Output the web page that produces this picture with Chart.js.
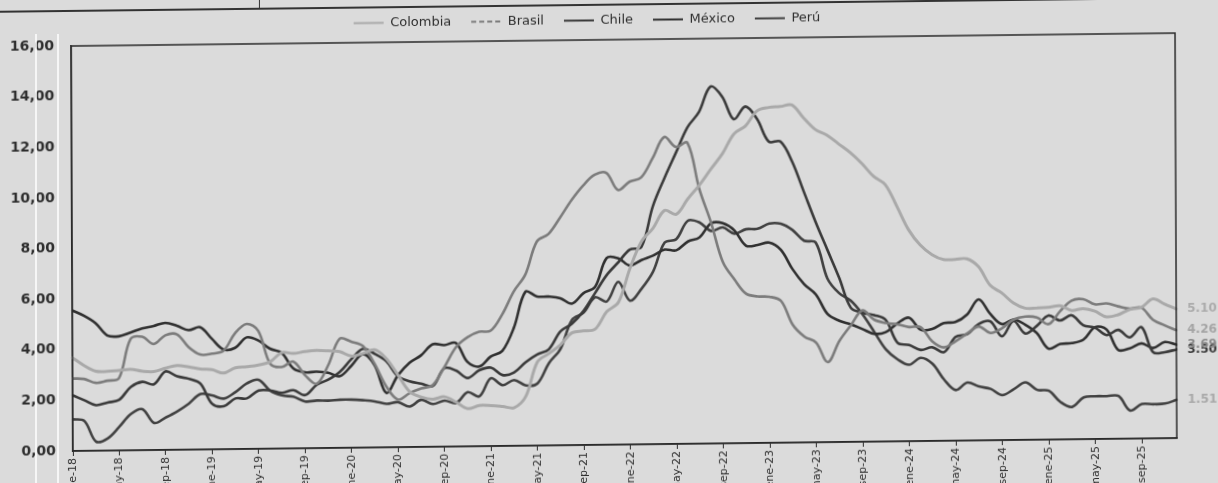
<!DOCTYPE html>
<html>
<head>
<meta charset="utf-8">
<script src="https://cdn.jsdelivr.net/npm/chart.js@4.4.1/dist/chart.umd.min.js"></script>
<style>
  html, body { margin: 0; padding: 0; background: #dbdbdb; overflow: hidden; width: 1218px; height: 483px; }
  #wrap { position: absolute; left: 0; top: 0; width: 1218px; height: 510px;
          transform-origin: 72px 250px; transform: rotate(-0.25deg) skewY(-0.42deg); }
  canvas { display: block; }
  .topline { position: absolute; left: 0; top: 10px; width: 1218px; height: 1.5px; background: #333; }
  .topTick { position: absolute; left: 260px; top: 0; width: 1px; height: 11px; background: #333; }
  .stripe { position: absolute; top: 34px; width: 1.5px; height: 449px; background: rgba(255,255,255,0.75); }
</style>
</head>
<body>
<div id="wrap">
  <div class="topline"></div>
  <div class="topTick"></div>
  <canvas id="c" width="1218" height="510"></canvas>
</div>
<div class="stripe" style="left:35px"></div>
<div class="stripe" style="left:57px"></div>
<script>
// ---------------- DATA ----------------
const monthNames = ['ene','feb','mar','abr','may','jun','jul','ago','sep','oct','nov','dic'];
const yearSuffixes = ['18','19','20','21','22','23','24','25'];
const categories = yearSuffixes.flatMap(y => monthNames.map(m => m + '-' + y));

const xTickLabels = ['ene-18','may-18','sep-18','ene-19','may-19','sep-19','ene-20','may-20','sep-20',
  'ene-21','may-21','sep-21','ene-22','may-22','sep-22','ene-23','may-23','sep-23',
  'ene-24','may-24','sep-24','ene-25','may-25','sep-25'];
const yTickLabels = ['0,00','2,00','4,00','6,00','8,00','10,00','12,00','14,00','16,00'];

const seriesNames = ['Colombia','Brasil','Chile','México','Perú'];

const colombia = [
  3.68,3.37,3.14,3.13,3.16,3.20,3.12,3.10,3.23,3.33,3.27,3.18,
  3.15,3.01,3.21,3.25,3.31,3.43,3.79,3.75,3.82,3.86,3.84,3.80,
  3.62,3.72,3.86,3.51,2.85,2.19,1.97,1.88,1.97,1.75,1.49,1.61,
  1.60,1.56,1.51,1.95,3.30,3.63,3.97,4.44,4.51,4.58,5.26,5.62,
  6.94,8.01,8.53,9.23,9.07,9.67,10.21,10.84,11.44,12.22,12.53,13.12,
  13.25,13.28,13.34,12.82,12.36,12.13,11.78,11.43,10.99,10.48,10.15,9.28,
  8.35,7.74,7.36,7.16,7.16,7.18,6.86,6.12,5.81,5.41,5.20,5.20,
  5.22,5.28,5.09,5.16,5.05,4.82,4.90,5.10,5.18,5.51,5.30,5.10];

const brasil = [
  2.86,2.84,2.68,2.76,2.86,4.39,4.48,4.19,4.53,4.56,4.05,3.75,
  3.78,3.89,4.58,4.94,4.66,3.37,3.22,3.43,2.89,2.54,3.27,4.31,
  4.19,4.01,3.30,2.40,1.88,2.13,2.31,2.44,3.14,3.92,4.31,4.52,
  4.56,5.20,6.10,6.76,8.06,8.35,8.99,9.68,10.25,10.67,10.74,10.06,
  10.38,10.54,11.30,12.13,11.73,11.89,10.07,8.73,7.17,6.47,5.90,5.79,
  5.77,5.60,4.65,4.18,3.94,3.16,3.99,4.61,5.19,4.82,4.68,4.62,
  4.51,4.50,3.93,3.69,3.93,4.23,4.50,4.24,4.42,4.76,4.87,4.83,
  4.56,5.06,5.48,5.53,5.32,5.35,5.23,5.13,5.17,4.68,4.46,4.26];

const chile = [
  2.2,2.0,1.8,1.9,2.0,2.5,2.7,2.6,3.1,2.9,2.8,2.6,
  1.8,1.7,2.0,2.0,2.3,2.3,2.2,2.3,2.1,2.5,2.7,3.0,
  3.5,3.9,3.7,3.4,2.8,2.6,2.5,2.4,3.1,3.0,2.7,3.0,
  3.1,2.8,2.9,3.3,3.6,3.8,4.5,4.8,5.3,6.0,6.7,7.2,
  7.7,7.8,9.4,10.5,11.5,12.5,13.1,14.1,13.7,12.8,13.3,12.8,
  11.9,11.9,11.1,9.9,8.7,7.6,6.5,5.3,5.1,5.0,4.8,3.9,
  3.8,3.6,3.7,3.5,4.1,4.2,4.6,4.7,4.1,4.7,4.2,4.5,
  4.9,4.7,4.9,4.5,4.4,4.1,4.3,4.0,4.4,3.4,3.4,3.5];

const mexico = [
  5.55,5.34,5.04,4.55,4.51,4.65,4.81,4.90,5.02,4.90,4.72,4.83,
  4.37,3.94,4.00,4.41,4.28,3.95,3.78,3.16,3.00,3.02,2.97,2.83,
  3.24,3.70,3.25,2.15,2.84,3.33,3.62,4.05,4.01,4.09,3.33,3.15,
  3.54,3.76,4.67,6.08,5.89,5.88,5.81,5.59,6.00,6.24,7.37,7.36,
  7.07,7.28,7.45,7.68,7.65,7.99,8.15,8.70,8.70,8.41,7.80,7.82,
  7.91,7.62,6.85,6.25,5.84,5.06,4.79,4.64,4.45,4.26,4.32,4.66,
  4.88,4.40,4.42,4.65,4.69,4.98,5.57,4.99,4.58,4.76,4.55,4.21,
  3.59,3.77,3.80,3.93,4.42,4.32,3.51,3.57,3.76,3.57,3.80,3.69];

const peru = [
  1.25,1.18,0.36,0.48,0.93,1.43,1.62,1.07,1.28,1.52,1.82,2.19,
  2.13,2.00,2.25,2.59,2.73,2.29,2.10,2.04,1.85,1.88,1.87,1.90,
  1.90,1.87,1.82,1.72,1.78,1.60,1.86,1.69,1.82,1.72,2.14,1.97,
  2.68,2.40,2.60,2.38,2.45,3.25,3.81,4.95,5.23,5.83,5.66,6.43,
  5.68,6.15,6.82,7.96,8.09,8.81,8.74,8.40,8.53,8.28,8.45,8.46,
  8.66,8.65,8.40,7.97,7.89,6.46,5.88,5.58,5.04,4.34,3.64,3.24,
  3.02,3.29,3.05,2.42,2.00,2.29,2.13,2.03,1.78,2.01,2.27,1.97,
  1.93,1.48,1.28,1.65,1.69,1.69,1.69,1.11,1.36,1.35,1.37,1.51];

const endLabels = ['5.10','4.26','3.50','3.69','1.51'];

// ---------------- STYLE ----------------
const lineColors = ['#a9a9a9','#7c7c7c','#3a3a3a','#303030','#414141'];
const lineWidths = [3,2.6,2.6,2.6,2.6];
const endLabelColors = ['#ababab','#a4a4a4','#3a3a3a','#8a8a8a','#a8a8a8'];
const FONT = '"DejaVu Sans", "Noto Sans", sans-serif';
const INK = '#2e2e2e';

const seriesValues = [colombia, brasil, chile, mexico, peru];

const datasets = seriesNames.map((name, i) => ({
  label: name,
  data: seriesValues[i],
  borderColor: lineColors[i],
  backgroundColor: lineColors[i],
  borderWidth: lineWidths[i],
  pointRadius: 0,
  pointHoverRadius: 0,
  tension: 0.35,
  fill: false,
  borderCapStyle: 'round',
  borderJoinStyle: 'round'
}));

const legendFix = {
  id: 'legendFix',
  beforeLayout(chart) {
    const lg = chart.legend;
    if (lg && !lg.__patched) {
      const f = lg.fit;
      lg.fit = function () { f.call(this); this.height = 46; };
      lg.__patched = true;
    }
  }
};

const frame = {
  id: 'frame',
  afterDatasetsDraw(chart) {
    const { ctx, chartArea: a } = chart;
    ctx.save();
    ctx.strokeStyle = '#2a2a2a';
    ctx.lineWidth = 1.5;
    ctx.strokeRect(a.left, a.top, a.right - a.left, a.bottom - a.top);
    ctx.restore();
  }
};

const endLabelPlugin = {
  id: 'endLabels',
  afterDraw(chart) {
    const ctx = chart.ctx;
    ctx.save();
    ctx.font = 'bold 12px ' + FONT;
    ctx.textBaseline = 'middle';
    ctx.textAlign = 'left';
    chart.data.datasets.forEach((ds, i) => {
      const meta = chart.getDatasetMeta(i);
      const p = meta.data[meta.data.length - 1];
      ctx.fillStyle = endLabelColors[i];
      ctx.fillText(endLabels[i], p.x + 11, p.y);
    });
    ctx.restore();
  }
};

new Chart(document.getElementById('c'), {
  type: 'line',
  data: { labels: categories, datasets: datasets },
  plugins: [legendFix, frame, endLabelPlugin],
  options: {
    responsive: false,
    animation: false,
    devicePixelRatio: 1,
    layout: { padding: { left: 0, right: 42, top: 0, bottom: 0 } },
    plugins: {
      tooltip: { enabled: false },
      legend: {
        position: 'top',
        align: 'center',
        labels: {
          color: INK,
          font: { family: FONT, size: 13 },
          usePointStyle: true,
          pointStyle: 'line',
          boxWidth: 30,
          boxHeight: 10,
          pointStyleWidth: 30,
          padding: 20,
          generateLabels(chart) {
            const items = Chart.defaults.plugins.legend.labels.generateLabels(chart);
            items.forEach(it => {
              it.lineWidth = 2;
              it.pointStyle = 'line';
              if (it.text === 'Brasil') it.lineDash = [5, 3];
            });
            return items;
          }
        }
      }
    },
    scales: {
      x: {
        type: 'category',
        offset: false,
        afterFit(scale) { scale.height = 510 - 451; },
        grid: { display: true, drawOnChartArea: false, drawTicks: true, tickLength: 5, color: '#2a2a2a', lineWidth: 1 },
        border: { display: true, color: '#2a2a2a', width: 1.5 },
        ticks: {
          autoSkip: false,
          maxRotation: 90,
          minRotation: 90,
          padding: 2,
          color: INK,
          font: { family: FONT, size: 11 },
          callback(value, index) {
            const lab = categories[index];
            return xTickLabels.includes(lab) ? lab : null;
          }
        }
      },
      y: {
        min: 0,
        max: 16,
        afterFit(scale) { scale.width = 72; },
        grid: { display: false, drawTicks: false },
        border: { display: true, color: '#2a2a2a', width: 1.5 },
        ticks: {
          stepSize: 2,
          padding: 17,
          color: INK,
          font: { family: FONT, size: 14, weight: 'bold' },
          callback(value) { return yTickLabels[Math.round(value / 2)]; }
        }
      }
    }
  }
});
</script>
</body>
</html>
